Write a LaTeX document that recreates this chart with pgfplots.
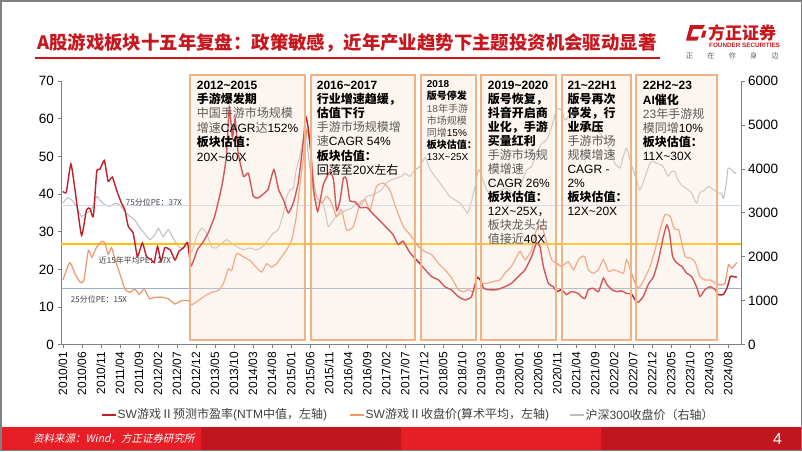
\documentclass[border=0pt]{standalone}
\usepackage{pgfplots}
\pgfplotsset{compat=1.18}
\usepackage{fontspec}
\setmainfont{Liberation Sans}
\newfontfamily\cjk{Noto Sans CJK SC}
\newfontfamily\cjksl{Noto Sans CJK SC}[FakeSlant=0.2]
\newcommand\tl{\textasciitilde}

\definecolor{pered}{RGB}{192,30,40}
\definecolor{pxorange}{RGB}{238,150,105}
\definecolor{hsgray}{RGB}{190,190,190}
\definecolor{p75}{RGB}{205,218,232}
\definecolor{pavg}{RGB}{255,192,0}
\definecolor{p25}{RGB}{150,175,205}
\definecolor{boxline}{RGB}{244,177,131}
\definecolor{boxfill}{RGB}{250,222,205}
\definecolor{titlered}{RGB}{200,22,29}
\definecolor{footred}{RGB}{232,30,38}
\definecolor{footdark}{RGB}{193,22,30}
\definecolor{axisgray}{RGB}{128,128,128}
\definecolor{txtgray}{RGB}{90,90,90}
\definecolor{legtxt}{RGB}{64,64,64}

\begin{document}
\begin{tikzpicture}[x=1pt,y=-1pt]
\useasboundingbox (0,0) rectangle (802,451);
\fill[white] (0,0) rectangle (802,451);

% right axis: CSI 300
\begin{axis}[
  at={(61pt,-344.7pt)}, anchor=south west,
  width=680pt, height=263.7pt, scale only axis,
  xmin=-0.5, xmax=178.4, ymin=0, ymax=6000,
  axis x line=none, axis y line*=right,
  axis line style={draw=axisgray, line width=0.8pt, -},
  ytick={0,1000,...,6000},
  tick align=outside, major tick length=3.5pt,
  tick style={axisgray, line width=0.8pt},
  yticklabel style={font=\fontsize{13.5}{14}\selectfont},
  /pgf/number format/1000 sep={},
  /pgf/number format/assume math mode=true,
]
\addplot[hsgray, line width=1pt, smooth, tension=0.3] coordinates {
(0,3220) (1.3,3350) (2.7,3260) (4,3070) (4.9,2920) (6.2,2990) (7.5,3070)
(8.9,3370) (9.7,3290) (11.1,3180) (12.4,3150) (13.7,3220) (15,3180)
(16.3,3030) (17.6,2920) (18.9,2840) (20.3,2650) (21.4,2540) (22.9,2390)
(24.2,2500) (25.1,2650) (26.4,2460) (27.7,2620) (29,2430) (30.4,2230)
(31.7,2200) (33,2310) (33.9,2120) (35.2,2460) (36.5,2650) (37.8,2540)
(39.1,2230) (40.4,2200) (41.8,2310) (43.1,2390) (44.5,2300) (46,2220)
(47.5,2160) (49.2,2200) (51,2160) (52.7,2240) (54,2390) (55.4,2540)
(56.7,2620) (58,2990) (58.9,3370) (59.7,3520) (60.6,3560) (61.4,3980)
(62.3,4280) (63.2,4660) (63.9,4920) (64.5,4360) (65.4,3750) (66.3,3290)
(67.1,3220) (68,3260) (68.9,3070) (69.8,2690) (70.6,2770) (71.9,2920)
(73.2,2990) (74.6,3070) (75.9,3100) (77.2,3220) (78.5,3180) (79.8,3370)
(81.1,3400) (82.5,3450) (83.8,3520) (85.1,3680) (86.4,3750) (87.7,3790)
(89.1,3830) (90,3900) (91.3,3830) (92.6,3980) (93.9,4050) (95.3,4260)
(96.6,3980) (97.9,3830) (99.2,3680) (100.5,3520) (101.8,3370) (103.2,3290)
(104.5,3220) (105.8,3070) (106.5,2990) (107.5,3260) (108.4,3600) (109.3,3980)
(110.2,3830) (111.5,3520) (112.8,3410) (114.1,3450) (115.4,3520) (116.8,3560)
(118.1,3450) (119.4,3370) (120.7,3680) (122,3980) (123.3,4050) (124.6,4360)
(126,4580) (127.3,4660) (128.6,4960) (129.9,5360) (131.2,5340) (132.1,5110)
(133.4,5220) (134.7,5040) (136,4960) (137.4,4960) (138.7,4850) (139.6,4960)
(140.4,4920) (141.3,4810) (142.6,4660) (143.9,4430) (145.2,4130) (146.6,4020)
(147.4,4280) (148.3,4470) (149.2,4200) (150,3980) (150.9,3750) (151.8,3520)
(152.6,3680) (153.5,3900) (154.4,4130) (155.3,4170) (156.1,4130) (157.5,4090)
(158.4,3980) (159.2,3830) (160.1,3940) (161,3940) (161.8,3750) (162.7,3640)
(164,3560) (165.4,3450) (166.2,3290) (166.8,3220) (167.5,3450) (168.9,3520)
(169.7,3600) (170.6,3560) (171.4,3520) (172.3,3450) (173.2,3450) (173.8,3330)
(174.6,3710) (175,4020) (175.9,3980) (176.8,3900) (177.2,3920)
};
\end{axis}

% left axis: PE and index price
\begin{axis}[
  at={(61pt,-344.7pt)}, anchor=south west,
  width=680pt, height=263.7pt, scale only axis,
  xmin=-0.5, xmax=178.4, ymin=0, ymax=70,
  axis x line*=bottom, axis y line*=left,
  axis line style={draw=axisgray, line width=0.8pt, -},
  ytick={0,10,...,70},
  xtick={0,5,...,175},
  xticklabels={2010/01,2010/06,2010/11,2011/04,2011/09,2012/02,2012/07,2012/12,
    2013/05,2013/10,2014/03,2014/08,2015/01,2015/06,2015/11,2016/04,2016/09,
    2017/02,2017/07,2017/12,2018/05,2018/10,2019/03,2019/08,2020/01,2020/06,
    2020/11,2021/04,2021/09,2022/02,2022/07,2022/12,2023/05,2023/10,2024/03,2024/08},
  tick align=outside, major tick length=3.5pt,
  tick style={axisgray, line width=0.8pt},
  yticklabel style={font=\fontsize{13.5}{14}\selectfont},
  xticklabel style={rotate=90, anchor=east, font=\fontsize{12}{12}\selectfont},
  /pgf/number format/assume math mode=true,
]
\addplot[p75, line width=1.3pt] coordinates {(-0.5,37) (178.4,37)};
\addplot[pavg, line width=1.3pt] coordinates {(-0.5,26.7) (178.4,26.7)};
\addplot[p25, line width=1.3pt] coordinates {(-0.5,15) (178.4,15)};
% SW game index close (arithmetic mean)
\addplot[pxorange, line width=1.2pt, smooth, tension=0.3] coordinates {
(0,17.2) (1.8,21.8) (3.2,18.8) (4.5,16.6) (5.5,17) (6.7,25) (7.6,23.2)
(8.8,25.8) (10.2,27.4) (11,27.1) (11.9,24) (12.8,25.8) (13.7,22.7) (15,18.8)
(16.3,14.8) (17.6,13.9) (18.9,14.8) (20.1,13.4) (21.4,14.8) (22.8,12.2)
(24.2,12.6) (26,12.6) (27.7,12.2) (29.5,10.8) (31.2,11.7) (33,11.7)
(33.9,10.6) (35.6,11.7) (37.4,13) (39.1,13.9) (40.9,14.4) (42.2,16.2)
(43.5,20.1) (44.4,19.7) (45.7,24.2) (47.5,23.3) (49.2,22.4) (50.8,20.6)
(52.3,19.3) (53.6,21.5) (54.9,20.6) (56.2,21.5) (57.5,23.3) (58.8,25.1)
(60.2,27.8) (61.4,34) (62.3,42) (63.2,49.1) (64.1,57) (65,53.6) (65.9,43.8)
(66.7,39.4) (68.1,37.6) (69.4,39.4) (70.7,37.6) (72,34) (73.3,35.8)
(74.6,30.5) (76.4,31.3) (78.2,37.6) (79.5,38.5) (80.8,35.8) (82.5,42)
(84.3,42.9) (86,41.1) (87.8,35.8) (89.6,31.3) (91.5,29) (93.5,26.1)
(95.3,24.7) (97,23.9) (98.8,21.6) (100.5,19.9) (102.3,17.7) (104,14.6)
(105.4,14.1) (106.7,14.6) (108,14.1) (109.1,18.1) (110.2,16.3) (111.5,16.3)
(113.3,16.8) (115,17.2) (116.3,19) (118,20.8) (119.4,23.4) (120.3,24.8)
(121.6,22.5) (123.3,25.2) (124.6,30.6) (126,31.5) (127.3,27) (128.6,22.5)
(129.9,21.6) (131.2,20.8) (133,22) (134.3,19.9) (135.6,22.5) (136.5,23.4)
(137.3,23.4) (138.2,19.9) (139.5,19) (140.9,19.9) (142.2,22.6) (143.5,19.5)
(144.8,19.9) (146.1,19.5) (147.5,19) (148.3,22.6) (149.6,19) (150.9,15.4)
(151.8,15.4) (153.1,17.7) (154.5,20.8) (155.8,25.2) (157.1,30.5) (158.4,34.5)
(159.8,34) (160.6,31.3) (161.3,30.5) (162,30.6) (162.8,27) (163.7,23.4)
(165,23) (166.3,22) (167.6,18.1) (168.9,17.2) (170.3,17.2) (171.6,16.3)
(172.9,15.9) (174.2,16.3) (175.1,21.2) (176,20.3) (177.3,21.8)
};
% SW game forward PE (NTM median)
\addplot[pered, line width=1.4pt, smooth, tension=0.3] coordinates {
(0,40.7) (0.9,40.5) (2.1,48) (3.2,41) (4.9,29) (6.2,35.8) (7.1,36.2) (8,34)
(8.9,46) (9.7,46.5) (10.9,48.9) (11.9,43.4) (13,44.5) (14.1,41.1) (15.4,37.6)
(16.3,35.8) (17.2,31.4) (18.5,29.6) (19.6,23.4) (20.9,27) (22,23.4)
(23.3,22.5) (24,21.8) (24.9,26.1) (25.8,22.1) (26.8,25.7) (28.2,25.2)
(29.5,22.5) (30.5,24.8) (31.7,25.7) (32.8,27.1) (33.7,20.9) (35.4,25.2)
(36.7,27) (38.2,29.6) (39.9,34) (41.2,39.3) (42.1,43.7) (43,50) (43.8,63)
(44.6,55) (45.3,60) (46.1,51) (47.5,44.7) (48.8,45.5) (50.1,39.4) (51.4,39)
(52.7,40) (54,41.3) (55.5,46.5) (56.7,41.3) (58,38.5) (59.3,35) (60.6,37.6)
(61.9,42.9) (63.1,52.7) (63.9,60.5) (64.6,57) (65.3,50) (66,40.7) (67,35.4)
(67.8,38.9) (68.5,42.5) (69.3,44.3) (70.3,46) (71.2,43.7) (72,35.6)
(72.9,38.2) (73.8,44.3) (74.6,44) (75.5,38.2) (76.8,38) (78.2,36.4) (80,36.4)
(81.7,34.6) (83.5,32.8) (85.2,31) (86.8,29.3) (88.2,26.6) (89.5,27.5)
(91.3,24.4) (93.5,22) (95.3,19.9) (97,18.1) (98.8,17.2) (100.5,15.4)
(102.3,14.5) (104,12.8) (105.8,11.9) (107.5,12.8) (108.9,17.7) (109.8,17.2)
(110.7,15) (111.9,14.6) (114.1,14.6) (116.3,15.4) (118,16.3) (119.8,18.1)
(121.6,19.9) (123.3,23.4) (124.6,27) (125.5,26.1) (126.4,20.8) (127.7,16.3)
(129,15.4) (129.9,14.1) (131.2,14.6) (132.5,13.3) (133.8,14.1) (135.6,13.6)
(136.5,12.6) (137.4,12.3) (138.2,14.6) (139.5,15) (140.9,14.1) (142.2,17.7)
(143.1,16) (144.4,14.6) (145.7,14.1) (147,14.3) (148.3,13.6) (149.6,13.5)
(150.5,11.9) (151.4,11.3) (152.7,12.8) (154,16) (155.4,18.1) (156.7,22.6)
(158,28.8) (158.9,31.8) (159.6,29.6) (160.4,23.4) (161.5,21.7) (162.8,20.8)
(164.1,19) (165.4,18.1) (166.7,15.4) (167.6,12.8) (168.9,14.6) (170.3,15.4)
(171.6,14.6) (172.4,13.3) (173.7,13.3) (174.7,15) (175.6,18.1) (176.3,18.1)
(177.3,17.9)
};
\end{axis}

% period boxes
\foreach \a/\b in {190/305, 311/415, 421/476, 481/556, 562/631, 636/717}{
  \fill[boxfill, opacity=0.3] (\a,75) rectangle (\b,340);
  \draw[boxline, line width=1.3pt] (\a,75) rectangle (\b,340);
}

\tikzset{boxtxt/.style={anchor=north west, align=left, inner sep=0pt, text=black}}
\node[boxtxt, font=\fontsize{12}{14.4}\selectfont] at (196.7,80.6) {%
\textbf{2012\tl2015}\\
{\cjk\bfseries 手游爆发期}\\
{\cjk\color{txtgray}中国手游市场规模}\\
{\cjk\color{txtgray}增速}CAGR{\cjk\color{txtgray}达}152\%\\
{\cjk\bfseries 板块估值：}\\
20X\tl60X};
\node[boxtxt, font=\fontsize{12}{14.2}\selectfont] at (316.7,80.6) {%
\textbf{2016\tl2017}\\
{\cjk\bfseries 行业增速趋缓，}\\
{\cjk\bfseries 估值下行}\\
{\cjk\color{txtgray}手游市场规模增}\\
{\cjk\color{txtgray}速}CAGR 54\%\\
{\cjk\bfseries 板块估值：}\\
{\cjk 回落至}20X{\cjk 左右}};
\node[boxtxt, font=\fontsize{10}{12.1}\selectfont] at (426.7,80.7) {%
\textbf{2018}\\
{\cjk\bfseries 版号停发}\\
{\color{txtgray}18{\cjk 年手游}}\\
{\cjk\color{txtgray}市场规模}\\
{\cjk\color{txtgray}同增}15\%\\
{\cjk\bfseries 板块估值：}\\
13X\tl25X};
\node[boxtxt, font=\fontsize{12}{14.03}\selectfont] at (487.7,80.6) {%
\textbf{2019\tl2020}\\
{\cjk\bfseries 版号恢复，}\\
{\cjk\bfseries 抖音开启商}\\
{\cjk\bfseries 业化，手游}\\
{\cjk\bfseries 买量红利}\\
{\cjk\color{txtgray}手游市场规}\\
{\cjk\color{txtgray}模增速}\\
CAGR 26\%\\
{\cjk\bfseries 板块估值：}\\
12X\tl25X{\cjk ，}\\
{\cjk\color{txtgray}板块龙头估}\\
{\cjk\color{txtgray}值接近}40X};
\node[boxtxt, font=\fontsize{12}{14.07}\selectfont] at (567.3,80.6) {%
\textbf{21\tl22H1}\\
{\cjk\bfseries 版号再次}\\
{\cjk\bfseries 停发，行}\\
{\cjk\bfseries 业承压}\\
{\cjk\color{txtgray}手游市场}\\
{\cjk\color{txtgray}规模增速}\\
CAGR -\\
2\%\\
{\cjk\bfseries 板块估值：}\\
12X\tl20X};
\node[boxtxt, font=\fontsize{12}{14.2}\selectfont] at (642.7,81.3) {%
\textbf{22H2\tl23}\\
{\bfseries AI{\cjk 催化}}\\
{\color{txtgray}23{\cjk 年手游规}}\\
{\cjk\color{txtgray}模同增}10\%\\
{\cjk\bfseries 板块估值：}\\
11X\tl30X};

% reference line labels
\tikzset{reflab/.style={font=\cjk\fontsize{8}{8}\selectfont, text=legtxt, inner sep=0pt}}
\node[reflab] at (154,202) {75分位PE：37X};
\node[reflab] at (135,260) {近15年平均PE：27X};
\node[reflab] at (99,299) {25分位PE：15X};

% title and rule
\node[anchor=west, inner sep=0pt, text=titlered, font=\cjk\bfseries\fontsize{18.4}{20}\selectfont]
  at (37,43) {A股游戏板块十五年复盘：政策敏感，近年产业趋势下主题投资机会驱动显著};
\draw[titlered, line width=1.3pt] (35,58) -- (660,58);

% logo
\fill[titlered] (690,25) -- (705,25) -- (702.5,29) -- (693,29) -- (690.5,36.5) -- (699,36.5) -- (697,40.5) -- (686,40.5) -- cycle;
\fill[titlered] (703,30.5) -- (706.5,30.5) -- (704.5,37.5) -- (701,37.5) -- cycle;
\node[anchor=west, inner sep=0pt, text=titlered, font=\cjk\bfseries\fontsize{17}{17}\selectfont] at (708,32.5) {方正证券};
\node[anchor=west, inner sep=0pt, text=titlered, font=\bfseries\fontsize{6.3}{6.3}\selectfont] at (709,45) {FOUNDER SECURITIES};
\foreach \c [count=\i from 0] in {正,在,你,身,边}
  \node[inner sep=0pt, text=txtgray, font=\cjk\fontsize{7}{7}\selectfont] at (689.5+21.4*\i,55.5) {\c};

% legend
\tikzset{legtext/.style={anchor=west, inner sep=0pt, text=legtxt, font=\fontsize{12}{12}\selectfont}}
\draw[pered, line width=1.4pt] (102,415) -- (116,415);
\node[legtext] at (117.5,415) {SW{\cjk 游戏Ⅱ预测市盈率}(NTM{\cjk 中值，左轴})};
\draw[pxorange, line width=1.4pt] (350,415) -- (364,415);
\node[legtext] at (365.5,415) {SW{\cjk 游戏Ⅱ收盘价}({\cjk 算术平均，左轴})};
\draw[hsgray, line width=1.2pt] (570,415) -- (584,415);
\node[legtext] at (585.5,415) {{\cjk 沪深}300{\cjk 收盘价（右轴）}};

% footer
\fill[footred] (0,427) rectangle (201,451);
\fill[footdark] (201,427) rectangle (401,451);
\fill[footred] (401,427) rectangle (601,451);
\fill[footdark] (601,427) rectangle (802,451);
\node[anchor=west, inner sep=0pt, text=white, font=\cjksl\fontsize{10.5}{10.5}\selectfont] at (33,439) {资料来源：Wind，方正证券研究所};
\node[inner sep=0pt, text=white, font=\fontsize{16}{16}\selectfont] at (777.5,439) {4};

% slide frame
\draw[axisgray, line width=1.5pt] (0.75,0.75) rectangle (801.25,450.25);
\end{tikzpicture}
\end{document}
